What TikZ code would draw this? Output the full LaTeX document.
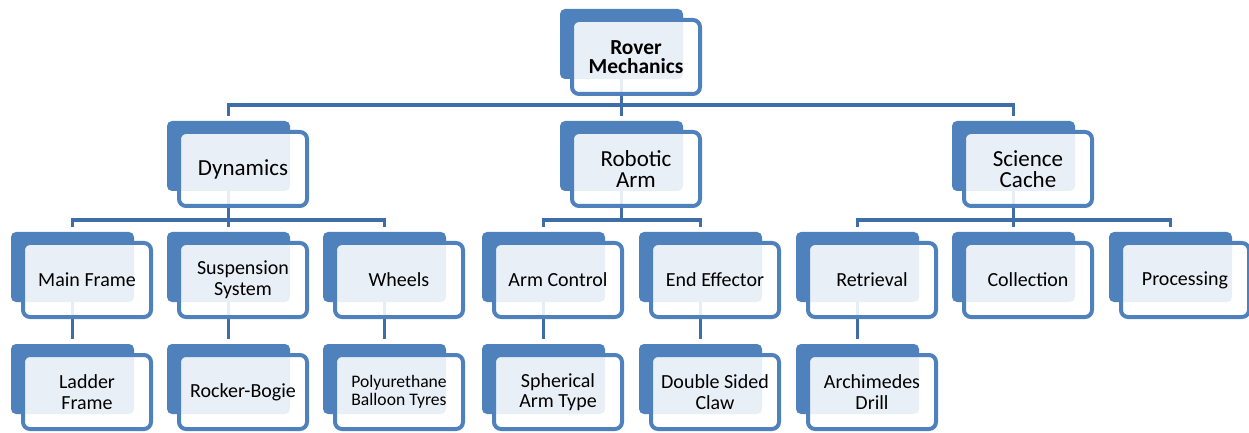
\documentclass[tikz,border=0pt]{standalone}
\usepackage{fontspec}
\setmainfont{Carlito}
\definecolor{accent}{HTML}{4F81BD}
\definecolor{connc}{HTML}{3E6DA8}
\pgfdeclarelayer{bg}
\pgfsetlayers{bg,main}
\newcommand\lvroot{\bfseries\fontsize{10.7}{9.3}\selectfont}
\newcommand\lvtwo{\fontsize{11.5}{10.2}\selectfont}
\newcommand\lvthree{\fontsize{10}{10.3}\selectfont}
\newcommand\lvsmall{\fontsize{8.8}{9.3}\selectfont}
\newcommand\smartbox[5][]{%
  \node[backbox] (#2B) at (#3,#4) {};
  \node[frontbox,#1] (#2) at (#3+12,#4+11) {#5};
}
\tikzset{
  backbox/.style={rectangle, rounded corners=2.5pt, fill=accent, minimum width=61.5pt, minimum height=35pt, anchor=north west, inner sep=0pt, outer sep=0pt},
  frontbox/.style={rectangle, rounded corners=3.5pt, draw=accent, line width=2pt, fill=white, fill opacity=0.88, text opacity=1, minimum width=64pt, minimum height=37pt, anchor=north west, inner sep=0pt, outer sep=0pt, align=center, font=\lvthree},
  conn/.style={draw=connc, line width=1.6pt, shorten >=2.5pt},
}
\begin{document}
\begin{tikzpicture}[x=0.5pt,y=-0.5pt]
\useasboundingbox (0,0) rectangle (1249,433);
% root
\smartbox[font=\lvroot]{root}{560}{9}{Rover\\Mechanics}
% level 2
\smartbox[font=\lvtwo]{dyn}{167}{121}{Dynamics}
\smartbox[font=\lvtwo]{arm}{560}{121}{Robotic\\Arm}
\smartbox[font=\lvtwo]{sci}{952}{121}{Science\\Cache}
% level 3
\smartbox{mainf}{11}{232}{Main Frame}
\smartbox{susp}{167}{232}{Suspension\\System}
\smartbox{wheel}{323}{232}{Wheels}
\smartbox{armc}{482}{232}{Arm Control}
\smartbox{endf}{639}{232}{End Effector}
\smartbox{retr}{796}{232}{Retrieval}
\smartbox{coll}{952}{232}{Collection}
\smartbox{proc}{1109}{232}{Processing}
% level 4
\smartbox{ladder}{11}{344}{Ladder\\Frame}
\smartbox{rocker}{167}{344}{Rocker-Bogie}
\smartbox[font=\lvsmall]{tyres}{323}{344}{Polyurethane\\Balloon Tyres}
\smartbox{sph}{482}{344}{Spherical\\Arm Type}
\smartbox{claw}{639}{344}{Double Sided\\Claw}
\smartbox{drill}{796}{344}{Archimedes\\Drill}
% buses
\coordinate (busA) at (0,105);
\coordinate (busB) at (0,220);
\begin{pgfonlayer}{bg}
\foreach \c in {dyn,arm,sci}
  \draw[conn] (rootB.south) -- (rootB.south |- busA) -| (\c B.north);
\foreach \c in {mainf,susp,wheel}
  \draw[conn] (dynB.south) -- (dynB.south |- busB) -| (\c B.north);
\foreach \c in {armc,endf}
  \draw[conn] (armB.south) -- (armB.south |- busB) -| (\c B.north);
\foreach \c in {retr,coll,proc}
  \draw[conn] (sciB.south) -- (sciB.south |- busB) -| (\c B.north);
\foreach \p/\c in {mainf/ladder,susp/rocker,wheel/tyres,armc/sph,endf/claw,retr/drill}
  \draw[conn] (\p B.south) -- (\c B.north);
\end{pgfonlayer}
\end{tikzpicture}
\end{document}
